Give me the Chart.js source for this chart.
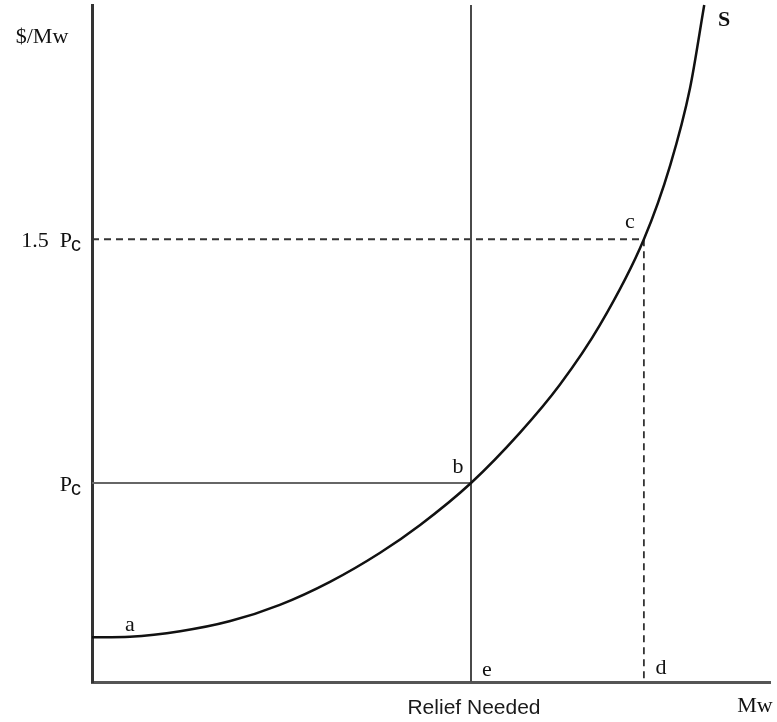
<!DOCTYPE html>
<html><head><meta charset="utf-8">
<script src="https://cdn.jsdelivr.net/npm/chart.js@4"></script>
<style>html,body{margin:0;padding:0;background:#fff}#wrap{width:777px;height:722px;position:relative}</style>
</head><body><div id="wrap"><canvas id="c"></canvas></div>
<script>
// Supply curve S (x: Mw, y: $/Mw, both in 0-100 units)
const supplyX = [0, 5.6, 13.0, 20.4, 27.7, 35.1, 42.5, 48.4, 55.9, 63.1, 69.0, 74.9, 81.4, 85.3, 88.2, 90.3];
const supplyY = [6.6, 6.7, 7.5, 9.0, 11.4, 14.8, 19.1, 23.2, 29.4, 36.8, 43.9, 52.7, 65.4, 76.4, 87.7, 100];
// Key quantities
const reliefNeededX = 55.9;   // point b / e
const pointCX = 81.4;         // point c / d
const priceLevels = [65.4, 29.4];          // 1.5 Pc, Pc
const priceMain = ['1.5  P', 'P'];
const priceSub = ['c', 'c'];
const xTickLabels = ['Relief Needed'];
const axisTitleY = '$/Mw';
const axisTitleX = 'Mw';
const curveName = 'S';
// point letters with the data point they belong to
const pointNames = ['a', 'b', 'c', 'd', 'e'];
const pointXs = [5.6, 55.9, 81.4, 81.4, 55.9];
const pointYs = [6.6, 29.4, 65.4, 0, 0];

const curve = supplyX.map((x, i) => ({x, y: supplyY[i]}));

const textPlugin = {
  id: 'texts',
  afterDraw(chart) {
    const {ctx, chartArea: a, scales: {x, y}} = chart;
    ctx.save();
    ctx.fillStyle = '#111';
    const serif = '"Liberation Serif", "Times New Roman", serif';
    const sans = '"Liberation Sans", Arial, sans-serif';
    // y-level labels with subscript c
    priceLevels.forEach((v, i) => {
      const py = y.getPixelForValue(v);
      ctx.font = '20px ' + sans;
      const sw = ctx.measureText(priceSub[i]).width;
      const subX = a.left - 11 - sw;
      ctx.textAlign = 'left'; ctx.textBaseline = 'alphabetic';
      ctx.fillText(priceSub[i], subX, py + 12);
      ctx.font = '22px ' + serif;
      ctx.textAlign = 'right';
      ctx.fillText(priceMain[i], subX + 1, py + 8);
    });
    // point letters
    const offs = [[0, -12], [-13, -16], [-14, -17], [17, -14], [16, -12]];
    ctx.font = '22px ' + serif;
    ctx.textAlign = 'center'; ctx.textBaseline = 'middle';
    pointNames.forEach((n, i) => {
      const px = x.getPixelForValue(pointXs[i]);
      const py = y.getPixelForValue(pointYs[i]);
      ctx.fillText(n, px + offs[i][0], py + offs[i][1]);
    });
    // curve name
    ctx.font = 'bold 22px ' + serif;
    const topX = x.getPixelForValue(supplyX[supplyX.length - 1]);
    ctx.fillText(curveName, topX + 20, a.top + 15);
    // axis titles
    ctx.font = '22px ' + serif;
    ctx.fillText(axisTitleY, 42, a.top + 32);
    ctx.fillText(axisTitleX, a.right - 15, a.bottom + 24);
    // x tick label
    ctx.font = '21px ' + sans;
    ctx.fillStyle = '#1a1a1a';
    ctx.fillText(xTickLabels[0], x.getPixelForValue(reliefNeededX) + 3, a.bottom + 26);
    ctx.restore();
  }
};

new Chart(document.getElementById('c'), {
  type: 'line',
  data: {
    datasets: [
      {label: 'S', data: curve, borderColor: '#111', borderWidth: 2.5, pointRadius: 0,
       cubicInterpolationMode: 'monotone', order: 0, clip: false},
      {label: 'relief', data: [{x: reliefNeededX, y: 0}, {x: reliefNeededX, y: 100}],
       borderColor: '#4a4a4a', borderWidth: 2, pointRadius: 0, order: 1, clip: false},
      {label: 'pc', data: [{x: 0, y: priceLevels[1]}, {x: reliefNeededX, y: priceLevels[1]}],
       borderColor: '#666', borderWidth: 2, pointRadius: 0, order: 1, clip: false},
      {label: 'pc15', data: [{x: 0, y: priceLevels[0]}, {x: pointCX, y: priceLevels[0]}],
       borderColor: '#333', borderWidth: 1.8, borderDash: [7, 5], pointRadius: 0, order: 1, clip: false},
      {label: 'cd', data: [{x: pointCX, y: priceLevels[0]}, {x: pointCX, y: 0}],
       borderColor: '#333', borderWidth: 1.8, borderDash: [7, 5], pointRadius: 0, order: 1, clip: false}
    ]
  },
  options: {
    responsive: true, maintainAspectRatio: false, animation: false,
    layout: {padding: {left: 92, top: 5, right: 7, bottom: 40}},
    plugins: {legend: {display: false}, tooltip: {enabled: false}},
    scales: {
      x: {type: 'linear', min: 0, max: 100,
          grid: {display: false, drawTicks: false},
          ticks: {display: false},
          border: {display: true, color: '#555', width: 3}},
      y: {type: 'linear', min: 0, max: 100,
          grid: {display: false, drawTicks: false},
          ticks: {display: false},
          border: {display: true, color: '#333', width: 3}}
    }
  },
  plugins: [textPlugin]
});
</script>
</body></html>
